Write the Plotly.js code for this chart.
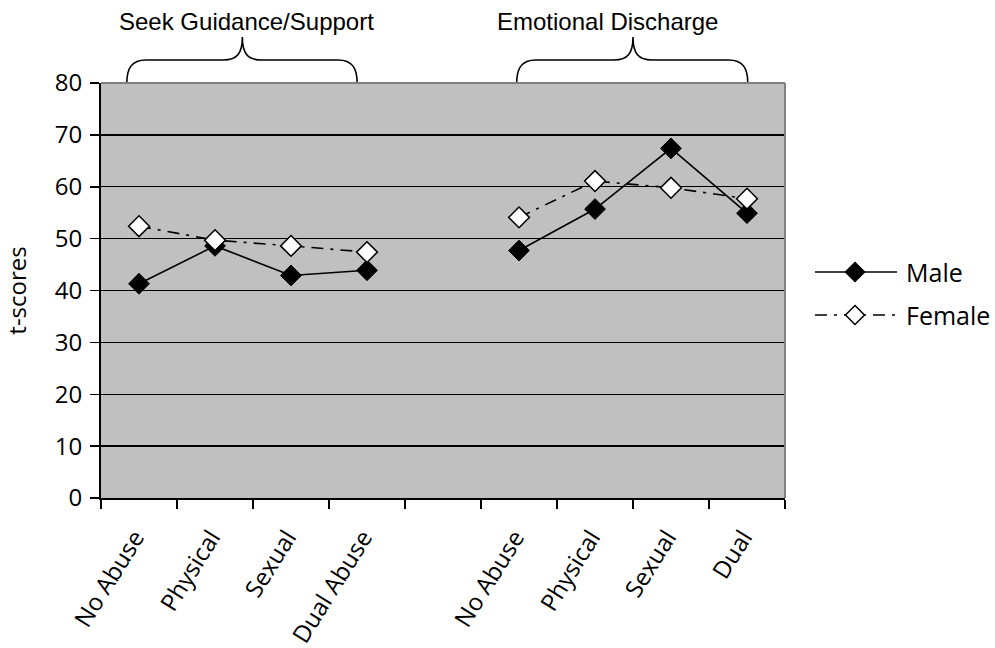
<!DOCTYPE html>
<html>
<head>
<meta charset="utf-8">
<script src="https://cdn.plot.ly/plotly-3.0.1.min.js"></script>
<style>html,body{margin:0;padding:0;background:#fff;}#chart{width:995px;height:648px;}</style>
</head>
<body>
<div id="chart"></div>
<script>
// ---- data ----
const categories = ["No Abuse", "Physical", "Sexual", "Dual Abuse", "", "No Abuse", "Physical", "Sexual", "Dual"];
const maleScores = [41.3, 48.6, 42.9, 43.9, null, 47.7, 55.7, 67.4, 54.9];
const femaleScores = [52.4, 49.7, 48.6, 47.4, null, 54.1, 61.1, 59.8, 57.7];
const seriesNames = ["Male", "Female"];
const groupLabels = ["Seek Guidance/Support", "Emotional Discharge"];
const yTicks = [0, 10, 20, 30, 40, 50, 60, 70, 80];

// ---- layout geometry ----
const W = 995, H = 648;
const M = {l: 101, r: 210, t: 83, b: 150};
const pw = W - M.l - M.r, ph = H - M.t - M.b;
const nCat = categories.length;
const xIdx = categories.map((_, i) => i);
const catPx = i => M.l + (i + 0.5) * pw / nCat;
const PX = px => (px - M.l) / pw;
const PY = py => (H - M.b - py) / ph;
const pt = (x, y) => PX(x).toFixed(5) + ',' + PY(y).toFixed(5);

// braces (positions in category units)
const braceSpecs = [
  {left: -0.16, right: 2.87, tip: 1.36, text: 1.42},
  {left: 4.97, right: 8.01, tip: 6.5, text: 6.17}
];
function bracePath(s) {
  const x0 = catPx(s.left), x1 = catPx(s.right), t = catPx(s.tip);
  const yb = M.t, ym = 60, yt = 37;
  return 'M' + pt(x0, yb) +
    ' C' + pt(x0, 68) + ' ' + pt(x0 + 5, ym) + ' ' + pt(x0 + 19, ym) +
    ' L' + pt(t - 19, ym) +
    ' C' + pt(t - 5, ym) + ' ' + pt(t, 53) + ' ' + pt(t, yt) +
    ' C' + pt(t, 53) + ' ' + pt(t + 5, ym) + ' ' + pt(t + 19, ym) +
    ' L' + pt(x1 - 19, ym) +
    ' C' + pt(x1 - 5, ym) + ' ' + pt(x1, 68) + ' ' + pt(x1, yb);
}
function diamondPath(cx, cy, r) {
  return 'M' + pt(cx, cy - r) + ' L' + pt(cx + r, cy) + ' L' + pt(cx, cy + r) + ' L' + pt(cx - r, cy) + ' Z';
}

const shapes = braceSpecs.map(s => ({
  type: 'path', xref: 'paper', yref: 'paper', path: bracePath(s),
  line: {color: '#000', width: 1.6}, layer: 'above'
}));
// gray top and right plot border
shapes.push({type: 'line', xref: 'paper', yref: 'paper', x0: 0, x1: 1, y0: 1, y1: 1, line: {color: '#808080', width: 2}, layer: 'above'});
shapes.push({type: 'line', xref: 'paper', yref: 'paper', x0: 1, x1: 1, y0: 0, y1: 1, line: {color: '#808080', width: 2}, layer: 'above'});

const annotations = braceSpecs.map((s, i) => ({
  xref: 'paper', yref: 'paper', x: PX(catPx(s.text)), y: PY(22),
  xanchor: 'center', yanchor: 'middle', showarrow: false,
  text: groupLabels[i],
  font: {family: 'Liberation Sans, Arial, sans-serif', size: 24, color: '#000'}
}));

const tickFont = {family: 'Open Sans, sans-serif', size: 24, color: '#000'};
const legendFont = {family: 'Open Sans, sans-serif', size: 25, color: '#000'};

const seriesStyle = [
  {dash: 'solid', fill: '#000', lineW: 1},
  {dash: '12px,7px,3px,7px', fill: '#fff', lineW: 1.5}
];

// legend drawn next to the plot (long key lines, as in the reference)
const legendRows = [272, 315];
seriesNames.forEach((name, i) => {
  const y = legendRows[i];
  shapes.push({type: 'line', xref: 'paper', yref: 'paper', x0: PX(815), x1: PX(897), y0: PY(y), y1: PY(y),
    line: {color: '#000', width: 1.6, dash: seriesStyle[i].dash}, layer: 'above'});
  shapes.push({type: 'path', xref: 'paper', yref: 'paper', path: diamondPath(855, y, 9.5),
    fillcolor: seriesStyle[i].fill, line: {color: '#000', width: 1.5}, layer: 'above'});
  annotations.push({xref: 'paper', yref: 'paper', x: PX(904), y: PY(y), xanchor: 'left', yanchor: 'middle',
    showarrow: false, text: name, font: legendFont});
});

const series = [maleScores, femaleScores];
const traces = series.map((vals, i) => ({
  x: xIdx, y: vals, name: seriesNames[i], type: 'scatter', mode: 'lines+markers',
  connectgaps: false, showlegend: false,
  line: {color: '#000', width: 1.6, dash: seriesStyle[i].dash},
  marker: {symbol: 'diamond', size: 16, color: seriesStyle[i].fill, line: {color: '#000', width: seriesStyle[i].lineW}}
}));

const layout = {
  width: W, height: H,
  margin: M,
  paper_bgcolor: '#fff',
  plot_bgcolor: '#C0C0C0',
  showlegend: false,
  xaxis: {
    range: [-0.5, nCat - 0.5],
    tickmode: 'array', tickvals: xIdx, ticktext: categories,
    tickangle: -58, ticks: '', tickfont: {family: 'Open Sans, sans-serif', size: 24, color: '#000'},
    ticklabelstandoff: 14, ticklabelshift: -4,
    showgrid: false, zeroline: false,
    showline: true, linecolor: '#000', linewidth: 2,
    minor: {tick0: -0.5, dtick: 1, ticks: 'outside', ticklen: 9, tickwidth: 1.5, tickcolor: '#000', showgrid: false},
    fixedrange: true
  },
  yaxis: {
    range: [0, 80],
    tickmode: 'array', tickvals: yTicks,
    ticks: 'outside', ticklen: 9, tickwidth: 1.5, tickcolor: '#000',
    tickfont: tickFont, ticklabelstandoff: 3,
    showgrid: true, gridcolor: '#000', gridwidth: 1.3,
    zeroline: false,
    showline: true, linecolor: '#000', linewidth: 2,
    title: {text: 't-scores', font: tickFont, standoff: 22},
    fixedrange: true
  },
  shapes: shapes,
  annotations: annotations
};

Plotly.newPlot('chart', traces, layout, {displayModeBar: false, staticPlot: true});
</script>
</body>
</html>
